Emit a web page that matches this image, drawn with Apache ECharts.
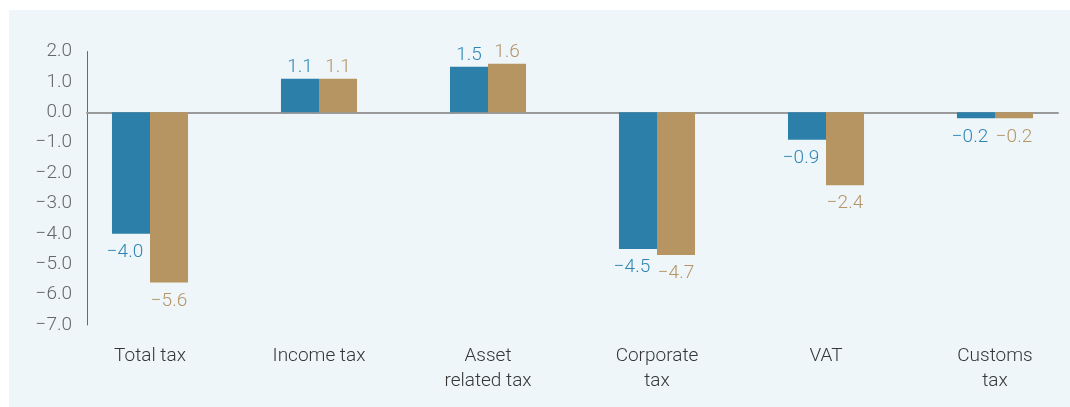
<!DOCTYPE html>
<html>
<head>
<meta charset="utf-8">
<script src="https://cdn.jsdelivr.net/npm/echarts@6/dist/echarts.min.js"></script>
<style>
html,body{margin:0;padding:0;background:#ffffff;overflow:hidden;width:1070px;height:407px;}
#chart{position:absolute;left:9px;top:10px;width:1080px;height:397px;background:#eef6f9;}
</style>
</head>
<body>
<div id="chart"></div>
<script>
const categories = ['Total tax', 'Income tax', 'Asset\nrelated tax', 'Corporate\ntax', 'VAT', 'Customs\ntax'];
const seriesA = [-4.0, 1.1, 1.5, -4.5, -0.9, -0.2];
const seriesB = [-5.6, 1.1, 1.6, -4.7, -2.4, -0.2];
const yTicks = { min: -7, max: 2, interval: 1 };

const BLUE = '#2c7fa8';
const TAN = '#b79563';
const FONT = 'Roboto';

function fmt(v) { return v.toFixed(1).replace('-', '\u2212'); }

function items(vals, shiftNeg) {
  return vals.map(v => ({
    value: v,
    label: {
      position: v < 0 ? 'bottom' : 'top',
      distance: v < 0 ? 9 : 2,
      offset: (v < 0 && shiftNeg) ? [-6, 0] : [0, 0]
    }
  }));
}

const chart = echarts.init(document.getElementById('chart'));
chart.setOption({
  animation: false,
  grid: [
    { left: 56.5, width: 1014, top: 41.5, bottom: 82 },
    { left: 78, width: 971, top: 41.5, bottom: 82 }
  ],
  xAxis: [
    {
      type: 'category', gridIndex: 0, data: categories,
      axisLine: { show: false, onZero: false },
      axisTick: { show: false },
      axisLabel: { color: '#363636', fontSize: 19, fontFamily: FONT, fontWeight: 300, lineHeight: 25, margin: 19, interval: 0 }
    },
    {
      type: 'category', gridIndex: 1, data: categories,
      axisLine: { show: true, onZero: true, lineStyle: { color: '#9a9a9a', width: 2 } },
      axisTick: { show: false },
      axisLabel: { show: false }
    }
  ],
  yAxis: [
    {
      type: 'value', gridIndex: 0, min: yTicks.min, max: yTicks.max, interval: yTicks.interval,
      show: false, splitLine: { show: false }
    },
    {
      type: 'value', gridIndex: 1, min: yTicks.min, max: yTicks.max, interval: yTicks.interval,
      axisLine: { show: true, lineStyle: { color: '#6a6a6a', width: 1 } },
      axisTick: { show: false },
      splitLine: { show: false },
      axisLabel: { color: '#666666', fontSize: 19, fontFamily: FONT, fontWeight: 300, margin: 15, formatter: fmt }
    }
  ],
  series: [
    {
      type: 'bar', xAxisIndex: 0, yAxisIndex: 0,
      data: items(seriesA, true),
      barGap: '0%', barCategoryGap: '55%',
      itemStyle: { color: BLUE },
      label: { show: true, color: '#2f86b6', fontSize: 19, fontFamily: FONT, fontWeight: 300,
        formatter: p => fmt(p.value) }
    },
    {
      type: 'bar', xAxisIndex: 0, yAxisIndex: 0,
      data: items(seriesB, false),
      barGap: '0%', barCategoryGap: '55%',
      itemStyle: { color: TAN },
      label: { show: true, color: '#b59467', fontSize: 19, fontFamily: FONT, fontWeight: 300,
        formatter: p => fmt(p.value) }
    }
  ]
});
</script>
</body>
</html>
